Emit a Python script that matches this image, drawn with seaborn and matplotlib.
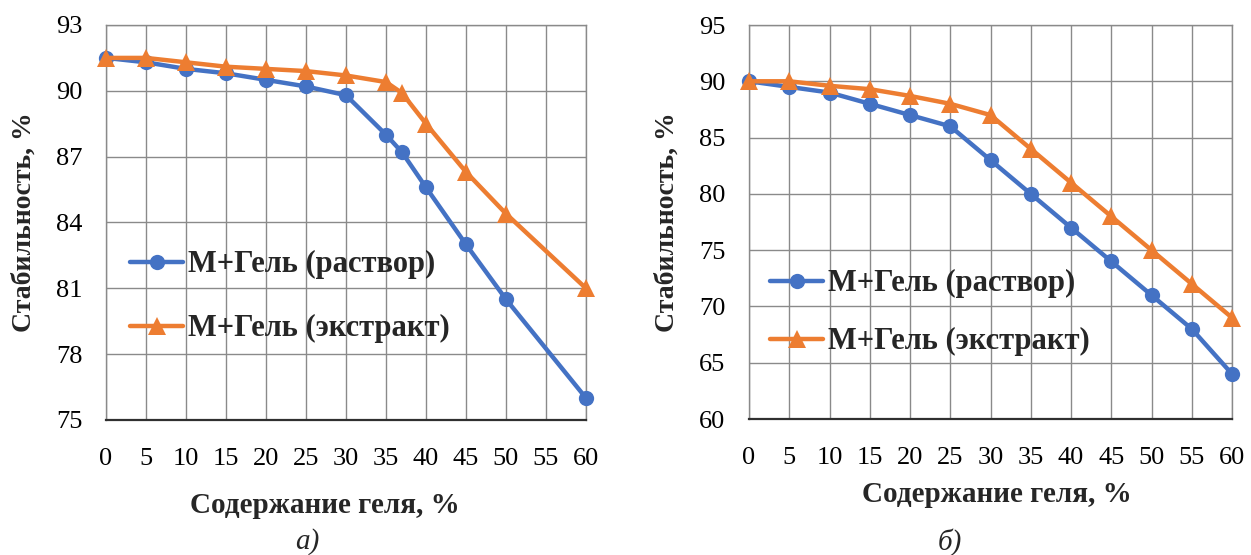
import matplotlib
matplotlib.use("Agg")
import matplotlib.pyplot as plt
import seaborn as sns
import pandas as pd

# ---- data ----
gel_a = [0, 5, 10, 15, 20, 25, 30, 35, 37, 40, 45, 50, 60]
rastvor_a = [91.5, 91.3, 91.0, 90.8, 90.5, 90.2, 89.8, 88.0, 87.2, 85.6, 83.0, 80.5, 76.0]
ekstrakt_a = [91.5, 91.5, 91.3, 91.1, 91.0, 90.9, 90.7, 90.4, 89.9, 88.5, 86.3, 84.4, 81.0]

gel_b = [0, 5, 10, 15, 20, 25, 30, 35, 40, 45, 50, 55, 60]
rastvor_b = [90.0, 89.5, 89.0, 88.0, 87.0, 86.0, 83.0, 80.0, 77.0, 74.0, 71.0, 68.0, 64.0]
ekstrakt_b = [90.0, 90.0, 89.6, 89.3, 88.7, 88.0, 87.0, 84.0, 81.0, 78.0, 75.0, 72.0, 69.0]

series_names = ["М+Гель (раствор)", "М+Гель (экстракт)"]
x_ticks = [0, 5, 10, 15, 20, 25, 30, 35, 40, 45, 50, 55, 60]
y_ticks_a = [75, 78, 81, 84, 87, 90, 93]
y_ticks_b = [60, 65, 70, 75, 80, 85, 90, 95]
x_label = "Содержание геля, %"
y_label = "Стабильность, %"
captions = ["а)", "б)"]

# ---- style ----
sns.set_style("white")
plt.rcParams["font.family"] = ["Liberation Serif", "DejaVu Serif"]

colors = ["#4472C4", "#ED7D31"]
markers = ["o", "^"]
msizes = [11, 12.5]

fig = plt.figure(figsize=(12.51, 5.55), dpi=100)
ax_a = fig.add_axes([106 / 1251, 1 - 420 / 555, 480 / 1251, 395 / 555])
ax_b = fig.add_axes([749 / 1251, 1 - 419 / 555, 483 / 1251, 394 / 555])

panels = [
    (ax_a, gel_a, [rastvor_a, ekstrakt_a], y_ticks_a, (0.05, 0.43), 1.15, 16, 0.456),
    (ax_b, gel_b, [rastvor_b, ekstrakt_b], y_ticks_b, (0.043, 0.38), 0.95, 9, 0.513),
]

for ax, xs, ys_list, yt, leg_anchor, lspace, xlpad, xlx in panels:
    df = pd.DataFrame({
        "x": xs * 2,
        "y": ys_list[0] + ys_list[1],
        "s": [series_names[0]] * len(xs) + [series_names[1]] * len(xs),
    })
    for i, name in enumerate(series_names):
        sub = df[df["s"] == name]
        sns.lineplot(data=sub, x="x", y="y", ax=ax, color=colors[i],
                     marker=markers[i], markersize=msizes[i],
                     markeredgewidth=0, linewidth=3.2, label=name,
                     clip_on=False, zorder=5, sort=False)
    ax.set_xlim(0, 60)
    ax.set_ylim(yt[0], yt[-1])
    ax.set_xticks(x_ticks)
    ax.set_yticks(yt)
    ax.grid(True, color="#8a8a8a", linewidth=1.0)
    ax.set_axisbelow(True)
    for side in ["top", "right", "left"]:
        ax.spines[side].set_color("#8a8a8a")
        ax.spines[side].set_linewidth(1.0)
    ax.spines["bottom"].set_color("#303030")
    ax.spines["bottom"].set_linewidth(1.6)
    ax.tick_params(axis="both", length=0, labelsize=19, colors="black")
    ax.tick_params(axis="x", pad=20)
    ax.tick_params(axis="y", pad=17)
    ax.set_xlabel(x_label, fontsize=21, fontweight="bold", labelpad=xlpad)
    ax.xaxis.label.set_x(xlx)
    ax.set_ylabel(y_label, fontsize=20, fontweight="bold", labelpad=14)
    ax.legend(loc="upper left", bbox_to_anchor=leg_anchor, frameon=False,
              prop={"weight": "bold", "size": 22},
              handlelength=1.75, handletextpad=0.15, labelspacing=lspace,
              borderpad=0, borderaxespad=0)

fig.text(307 / 1251, 1 - 542 / 555, captions[0], fontsize=21, style="italic",
         ha="center", va="center")
fig.text(950 / 1251, 1 - 542 / 555, captions[1], fontsize=21, style="italic",
         ha="center", va="center")

fig.savefig("out.png", dpi=100)
